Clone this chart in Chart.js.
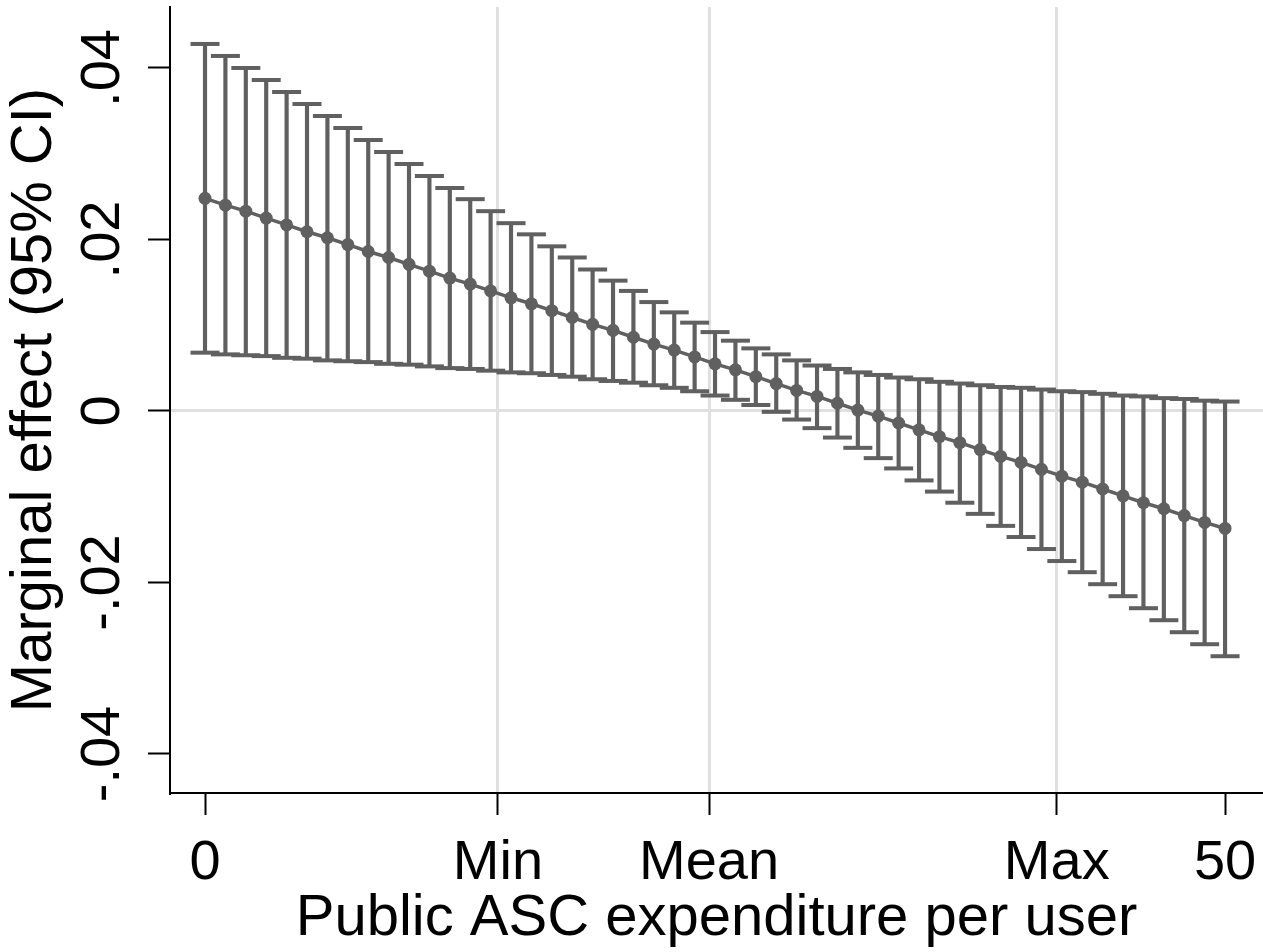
<!DOCTYPE html>
<html>
<head>
<meta charset="utf-8">
<script src="https://cdn.jsdelivr.net/npm/chart.js@4.4.1/dist/chart.umd.min.js"></script>
<style>
  html, body { margin: 0; padding: 0; background: #fff; }
  #wrap { width: 1263px; height: 952px; }
</style>
</head>
<body>
<div id="wrap"><canvas id="chart" width="1263" height="952"></canvas></div>
<script>
// Public ASC expenditure per user (x) and marginal effect with 95% CI
const xValues = [
  0, 1, 2, 3, 4, 5, 6, 7, 8, 9,
  10, 11, 12, 13, 14, 15, 16, 17, 18, 19,
  20, 21, 22, 23, 24, 25, 26, 27, 28, 29,
  30, 31, 32, 33, 34, 35, 36, 37, 38, 39,
  40, 41, 42, 43, 44, 45, 46, 47, 48, 49,
  50,
];
const estimate = [
  0.0248, 0.024, 0.0233, 0.0225, 0.0217, 0.0209, 0.0202, 0.0194, 0.0186, 0.0179,
  0.0171, 0.0163, 0.0155, 0.0148, 0.014, 0.0132, 0.0125, 0.0117, 0.0109, 0.0101,
  0.0094, 0.0086, 0.0078, 0.0071, 0.0063, 0.0055, 0.0048, 0.004, 0.0032, 0.0024,
  0.0017, 0.0009, 0.0001, -0.0006, -0.0014, -0.0022, -0.003, -0.0037, -0.0045, -0.0053,
  -0.006, -0.0068, -0.0076, -0.0083, -0.0091, -0.0099, -0.0107, -0.0114, -0.0122, -0.013,
  -0.0137,
];
const upperCI = [
  0.0428, 0.0414, 0.04, 0.0386, 0.0372, 0.0358, 0.0344, 0.033, 0.0316, 0.0302,
  0.0288, 0.0274, 0.026, 0.0247, 0.0233, 0.0219, 0.0206, 0.0192, 0.0179, 0.0165,
  0.0152, 0.014, 0.0127, 0.0115, 0.0103, 0.0092, 0.0082, 0.0073, 0.0066, 0.0059,
  0.0053, 0.0049, 0.0045, 0.0042, 0.0039, 0.0037, 0.0034, 0.0032, 0.003, 0.0028,
  0.0027, 0.0025, 0.0023, 0.0022, 0.002, 0.0018, 0.0017, 0.0015, 0.0014, 0.0012,
  0.0011,
];
const lowerCI = [
  0.0068, 0.0066, 0.0065, 0.0064, 0.0062, 0.0061, 0.0059, 0.0058, 0.0057, 0.0055,
  0.0054, 0.0052, 0.005, 0.0049, 0.0047, 0.0045, 0.0044, 0.0042, 0.004, 0.0037,
  0.0035, 0.0033, 0.003, 0.0027, 0.0023, 0.0018, 0.0013, 0.0007, -0.0001, -0.001,
  -0.002, -0.0031, -0.0043, -0.0055, -0.0067, -0.0081, -0.0094, -0.0107, -0.012, -0.0134,
  -0.0147, -0.0161, -0.0175, -0.0188, -0.0202, -0.0216, -0.023, -0.0244, -0.0258, -0.0272,
  -0.0286,
];
const xTickValues = [0, 14.36, 24.71, 41.75, 50];
const xTickLabels = ["0", "Min", "Mean", "Max", "50"];
const yTickValues = [-0.04, -0.02, 0, 0.02, 0.04];
const yTickLabels = ["-.04", "-.02", "0", ".02", ".04"];

const markColor = "#606060";
const gridColor = "#e0e0e0";
const noColor = "rgba(0,0,0,0)";

Chart.defaults.font.family = "'Liberation Sans', Arial, sans-serif";
Chart.defaults.color = "#000";

new Chart(document.getElementById("chart"), {
  type: "line",
  data: {
    datasets: [
      {
        label: "Marginal effect",
        data: xValues.map((x, i) => ({ x: x, y: estimate[i] })),
        borderColor: markColor,
        borderWidth: 3.5,
        pointRadius: 6.5,
        pointBackgroundColor: markColor,
        pointBorderWidth: 0,
        tension: 0,
      },
      {
        type: "scatter",
        label: "Upper",
        data: xValues.map((x, i) => ({ x: x, y: upperCI[i] })),
        pointStyle: "line",
        pointRadius: 14.5,
        pointBorderColor: markColor,
        pointBorderWidth: 4,
        showLine: false,
      },
      {
        type: "scatter",
        label: "Lower",
        data: xValues.map((x, i) => ({ x: x, y: lowerCI[i] })),
        pointStyle: "line",
        pointRadius: 14.5,
        pointBorderColor: markColor,
        pointBorderWidth: 4,
        showLine: false,
      },
      {
        type: "bar",
        label: "95% CI",
        data: xValues.map((x, i) => ({ x: x, y: [lowerCI[i], upperCI[i]] })),
        backgroundColor: markColor,
        borderWidth: 0,
        barThickness: 3.5,
      },
    ],
  },
  options: {
    responsive: false,
    devicePixelRatio: 1,
    animation: false,
    events: [],
    layout: { autoPadding: false, padding: { top: 7, left: 0, right: 0, bottom: 0 } },
    plugins: {
      legend: { display: false },
      tooltip: { enabled: false },
    },
    scales: {
      x: {
        type: "linear",
        min: -1.716,
        max: 51.86,
        offset: false,
        afterBuildTicks: (scale) => {
          scale.ticks = xTickValues.map((v) => ({ value: v }));
        },
        afterFit: (scale) => {
          scale.height = 159;
          scale.paddingLeft = 0;
          scale.paddingRight = 0;
        },
        ticks: {
          callback: (value, index) => xTickLabels[index],
          font: { size: 56 },
          padding: 15,
          maxRotation: 0,
          autoSkip: false,
          color: "#000",
        },
        grid: {
          offset: false,
          color: (c) =>
            c.tick && (c.tick.value === 0 || c.tick.value === 50) ? noColor : gridColor,
          lineWidth: 3,
          tickColor: "#000",
          tickWidth: 2,
          tickLength: 22,
        },
        border: { color: "#000", width: 2 },
        title: {
          display: true,
          text: "Public ASC expenditure per user",
          font: { size: 58 },
          color: "#000",
          padding: { top: 0, bottom: -2 },
        },
      },
      y: {
        min: -0.04455,
        max: 0.04711,
        afterBuildTicks: (scale) => {
          scale.ticks = yTickValues.map((v) => ({ value: v }));
        },
        afterFit: (scale) => {
          scale.width = 170;
          scale.paddingTop = 0;
          scale.paddingBottom = 0;
        },
        ticks: {
          callback: (value, index) => yTickLabels[index],
          font: { size: 56 },
          minRotation: 90,
          maxRotation: 90,
          crossAlign: "center",
          padding: -4,
          color: "#000",
        },
        grid: {
          color: (c) => (c.tick && c.tick.value === 0 ? gridColor : noColor),
          lineWidth: 3,
          tickColor: "#000",
          tickWidth: 2,
          tickLength: 22,
        },
        border: { color: "#000", width: 2 },
        title: {
          display: true,
          text: "Marginal effect (95% CI)",
          font: { size: 58 },
          color: "#000",
          padding: { top: 0, bottom: 0 },
        },
      },
    },
  },
});
</script>
</body>
</html>
